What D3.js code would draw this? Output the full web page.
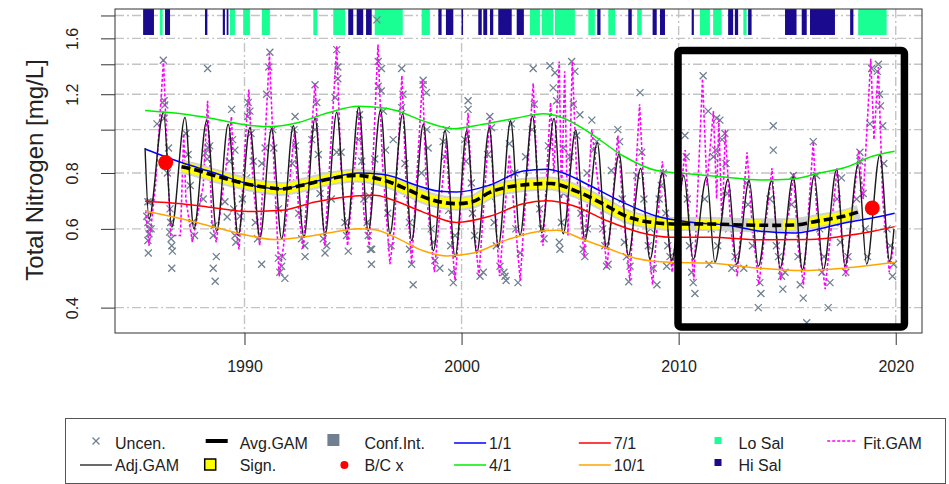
<!DOCTYPE html>
<html>
<head>
<meta charset="utf-8">
<script src="https://cdn.jsdelivr.net/npm/d3@7"></script>
<style>
  body { margin: 0; background: #fff; }
  svg { display: block; font-family: "Liberation Sans", Arial, sans-serif; }
</style>
</head>
<body>
<div class="chart"></div>
<script>
// Observations (uncensored): [decimal year, TN mg/L]
var uncen = [
  [1985.55,0.69],[1985.5,0.64],[1985.55,0.62],[1985.62,0.60],[1985.6,0.585],[1985.55,0.565],[1985.57,0.53],[1985.65,0.69],[1985.97,1.03],[1985.7,0.60],
  [1986.26,1.43],[1986.3,1.16],[1986.33,1.135],[1986.3,1.06],[1986.5,0.91],[1986.57,0.665],[1986.55,0.59],[1986.62,0.57],[1986.65,0.55],[1986.68,0.535],[1986.65,0.49],[1986.6,0.62],[1986.45,0.80],
  [1987.3,0.98],[1987.4,0.88],[1987.6,0.62],[1987.7,0.58],[1987.5,0.75],
  [1988.3,1.37],[1988.33,0.91],[1988.2,0.886],[1988.28,0.86],[1988.4,0.92],[1988.56,0.58],[1988.7,0.52],[1988.56,0.49],[1988.65,0.458],[1988.6,0.61],[1988.1,0.70],
  [1989.41,1.11],[1989.56,0.90],[1989.1,0.69],[1989.5,0.665],[1989.2,0.638],[1989.56,0.58],[1989.6,0.56],[1989.3,0.85],[1989.45,0.95],
  [1990.17,1.15],[1990.25,1.10],[1990.15,1.07],[1990.3,0.98],[1989.9,0.70],[1989.8,0.64],[1990.1,0.78],[1990.79,0.50],[1990.5,0.62],[1990.6,0.57],[1990.4,0.85],
  [1991.17,1.49],[1991.12,1.38],[1991.02,1.2],[1990.95,0.91],[1991.35,0.91],[1990.8,0.84],[1991.56,0.665],[1991.56,0.516],[1991.71,0.495],[1991.63,0.48],[1991.86,0.465],[1991.75,0.52],[1991.4,0.75],[1991.3,1.0],
  [1992.33,1.07],[1992.28,1.0],[1992.35,0.92],[1992.4,0.76],[1992.63,0.57],[1992.79,0.52],[1992.78,0.55],[1992.5,0.65],[1992.2,0.84],
  [1993.25,1.26],[1993.33,1.15],[1993.25,1.0],[1993.48,0.72],[1993.63,0.57],[1993.79,0.55],[1993.71,0.53],[1993.4,0.88],[1993.1,0.95],
  [1994.25,1.51],[1994.3,1.38],[1994.3,1.30],[1994.18,1.18],[1994.25,0.89],[1994.45,0.89],[1994.48,0.79],[1994.63,0.62],[1994.78,0.535],[1994.7,0.58],[1994.0,0.70],
  [1995.3,1.08],[1995.25,0.95],[1995.4,0.85],[1995.5,0.70],[1995.7,0.58],[1995.8,0.54],[1995.65,0.62],[1995.05,0.80],
  [1996.1,1.76],[1996.16,1.42],[1996.31,1.37],[1996.16,1.25],[1996.3,1.22],[1996.0,0.86],[1995.75,0.71],[1995.86,0.54],[1995.85,0.50],[1996.5,0.90],[1996.6,0.65],[1996.75,0.55],[1996.4,1.10],
  [1997.24,1.37],[1997.3,1.20],[1997.24,1.12],[1997.39,0.84],[1996.85,0.95],[1997.7,0.50],[1997.77,0.45],[1997.6,0.54],[1997.5,0.72],[1997.6,0.62],
  [1998.23,1.29],[1998.38,1.21],[1998.23,1.26],[1998.46,0.91],[1998.15,0.80],[1998.77,0.51],[1999.0,0.49],[1998.6,0.60],[1998.7,0.56],[1998.4,1.0],
  [1999.15,0.94],[1999.22,0.87],[1999.62,0.455],[1999.55,0.48],[1999.5,0.55],[1999.4,0.66],[1999.3,1.0],[1999.7,0.58],
  [2000.3,1.16],[2000.3,1.11],[2000.15,0.95],[2000.45,0.76],[2000.85,0.47],[2001.0,0.48],[2000.6,0.58],[2000.5,0.65],[2000.2,0.85],
  [2001.3,1.07],[2001.38,1.01],[2001.3,0.71],[2001.77,0.495],[2002.0,0.47],[2002.05,0.46],[2001.95,0.48],[2001.6,0.55],[2001.5,0.62],[2001.2,0.88],
  [2002.6,0.455],[2002.45,0.80],[2002.2,0.93],[2002.3,1.03],[2002.5,0.60],[2002.7,0.53],[2002.1,0.75],
  [2003.3,1.37],[2003.35,1.14],[2002.95,0.87],[2003.6,0.665],[2003.5,0.75],[2003.7,0.60],[2003.8,0.57],[2003.25,1.0],
  [2004.07,1.39],[2004.3,1.34],[2004.22,1.24],[2004.38,1.16],[2004.68,0.91],[2004.53,0.54],[2004.5,0.56],[2004.6,0.62],[2004.7,0.72],[2004.0,0.92],
  [2005.07,1.42],[2005.22,1.35],[2005.15,1.14],[2005.45,1.08],[2005.3,0.97],[2005.0,0.87],[2005.6,0.54],[2005.68,0.52],[2005.5,0.65],[2005.8,0.60],
  [2006.0,1.05],[2006.23,0.94],[2006.08,0.90],[2005.78,0.80],[2006.68,0.495],[2006.75,0.50],[2006.5,0.60],[2006.6,0.55],[2006.3,0.70],
  [2007.2,1.00],[2007.28,0.94],[2006.9,0.81],[2007.76,0.495],[2007.7,0.457],[2007.5,0.56],[2007.6,0.52],[2007.4,0.70],
  [2008.22,1.21],[2008.3,0.89],[2008.07,0.79],[2008.83,0.49],[2009.0,0.45],[2008.6,0.55],[2008.7,0.60],[2008.4,0.70],
  [2009.3,0.80],[2009.2,0.75],[2009.5,0.55],[2009.6,0.52],[2009.45,0.495],[2009.4,0.65],[2009.1,0.70],
  [2010.29,0.97],[2010.35,0.87],[2010.67,0.455],[2010.75,0.43],[2010.6,0.48],[2010.5,0.55],[2010.4,0.70],[2010.1,0.62],
  [2011.13,1.32],[2011.36,1.10],[2011.75,1.06],[2011.9,1.05],[2011.6,0.87],[2011.7,0.90],[2011.2,0.70],[2011.5,0.60],[2011.8,0.55],[2011.4,0.50],
  [2012.13,0.98],[2012.0,0.95],[2012.18,0.84],[2012.45,0.49],[2012.3,0.60],[2012.6,0.52],[2012.25,0.72],
  [2013.13,0.76],[2013.0,0.49],[2013.74,0.455],[2013.79,0.43],[2013.67,0.40],[2013.4,0.55],[2013.5,0.60],[2013.2,0.68],
  [2014.36,1.02],[2014.36,0.90],[2014.74,0.47],[2014.8,0.44],[2014.9,0.48],[2014.5,0.55],[2014.2,0.70],[2014.6,0.52],
  [2015.28,0.79],[2015.9,0.37],[2015.74,0.42],[2015.6,0.45],[2015.4,0.60],[2015.5,0.52],[2015.2,0.68],
  [2016.2,0.94],[2016.35,0.79],[2016.97,0.455],[2016.89,0.40],[2016.7,0.52],[2016.5,0.60],[2016.6,0.48],
  [2017.5,0.78],[2017.3,0.70],[2017.45,0.56],[2017.7,0.48],[2017.8,0.52],[2017.2,0.62],
  [2018.35,0.89],[2018.35,0.85],[2018.81,1.03],[2018.89,1.37],[2018.6,0.60],[2018.7,0.52],[2018.5,0.72],[2018.2,0.70],
  [2019.2,1.40],[2019.15,1.35],[2019.25,1.2],[2019.3,1.13],[2019.4,1.02],[2019.45,0.84],[2019.9,0.50],[2019.85,0.47],[2019.6,0.60],[2019.75,0.55]
];

// Adjusted GAM (seasonal), read as peaks, troughs and end points
var adjPeaks = [
  [1986.27,1.094],[1987.26,1.065],[1988.26,1.047],[1989.25,1.028],[1990.25,1.01],[1991.25,1.005],[1992.25,1.02],
  [1993.25,1.06],[1994.25,1.094],[1995.27,1.125],[1996.27,1.105],[1997.29,1.085],[1998.24,1.028],[1999.24,0.994],
  [2000.24,0.994],[2001.28,1.01],[2002.26,1.047],[2003.27,1.073],[2004.26,1.059],[2005.26,0.997],[2006.25,0.935],
  [2007.26,0.884],[2008.25,0.82],[2009.25,0.80],[2010.24,0.79],[2011.29,0.783],[2012.28,0.776],[2013.25,0.77],
  [2014.28,0.768],[2015.28,0.785],[2016.25,0.791],[2017.28,0.815],[2018.27,0.835],[2019.27,0.879]
];
var adjTroughs = [
  [1985.6,0.632],[1986.65,0.606],[1987.67,0.60],[1988.72,0.593],[1989.71,0.58],[1990.71,0.572],[1991.71,0.57],
  [1992.74,0.575],[1993.71,0.581],[1994.71,0.588],[1995.7,0.593],[1996.7,0.585],[1997.7,0.565],[1998.7,0.536],
  [1999.7,0.519],[2000.7,0.53],[2001.69,0.548],[2002.69,0.58],[2003.69,0.588],[2004.68,0.585],[2005.68,0.565],
  [2006.68,0.542],[2007.68,0.522],[2008.68,0.513],[2009.68,0.51],[2010.67,0.513],[2011.67,0.505],[2012.67,0.50],
  [2013.67,0.495],[2014.67,0.49],[2015.7,0.486],[2016.66,0.486],[2017.66,0.495],[2018.66,0.50],[2019.72,0.508]
];
var adjEnds = [[1985.42,0.91],[2019.92,0.60]];

// Average GAM (long-term trend)
var avgGam = [
  [1987.1,0.826],[1987.6,0.816],[1988.6,0.79],[1989.9,0.76],[1991.1,0.742],[1991.7,0.737],[1992.6,0.75],
  [1993.9,0.776],[1995.1,0.79],[1996.2,0.776],[1996.8,0.76],[1997.5,0.735],[1998.5,0.70],[1999.8,0.683],
  [2000.5,0.69],[2001.3,0.724],[2002.8,0.752],[2004.1,0.758],[2005.3,0.728],[2006.5,0.683],[2007.6,0.64],
  [2008.8,0.62],[2010.0,0.615],[2011.5,0.615],[2013.0,0.612],[2014.5,0.611],[2015.3,0.612],[2016.5,0.626],
  [2017.6,0.64],[2018.3,0.655]
];
// periods of significant change
var signif = [[1987.1,2010.5],[2010.8,2011.9],[2013.2,2013.8],[2014.8,2015.35],[2016.0,2018.05]];

// GAM evaluated on fixed days of year
var day0101 = [
  [1985.42,0.905],[1987.1,0.844],[1988.64,0.80],[1990.0,0.76],[1990.64,0.745],[1991.7,0.737],[1992.94,0.76],
  [1994.0,0.78],[1995.24,0.80],[1996.32,0.795],[1996.93,0.783],[1997.62,0.76],[1999.0,0.728],[1999.77,0.725],
  [2001.3,0.752],[2002.84,0.808],[2003.92,0.816],[2004.68,0.80],[2005.9,0.75],[2007.45,0.687],[2008.99,0.64],
  [2010.67,0.62],[2012.2,0.612],[2013.75,0.593],[2015.28,0.587],[2016.5,0.60],[2017.74,0.62],[2018.96,0.635],[2019.95,0.65]
];
var day0401 = [
  [1985.42,1.104],[1987.1,1.085],[1988.64,1.056],[1989.87,1.028],[1991.25,1.016],[1992.33,1.033],[1993.86,1.091],
  [1995.24,1.128],[1996.32,1.119],[1996.93,1.105],[1998.23,1.046],[1999.62,1.005],[2001.0,1.028],[2002.54,1.062],
  [2003.76,1.085],[2004.68,1.062],[2005.9,0.984],[2007.45,0.873],[2008.99,0.81],[2010.67,0.795],[2012.2,0.783],
  [2013.75,0.772],[2015.28,0.776],[2016.5,0.80],[2017.74,0.825],[2018.96,0.873],[2019.95,0.895]
];
var day0701 = [
  [1985.42,0.692],[1987.1,0.683],[1988.64,0.668],[1990.17,0.656],[1991.7,0.66],[1993.25,0.689],[1995.09,0.711],
  [1996.0,0.713],[1996.7,0.70],[1998.23,0.654],[1999.77,0.62],[2001.3,0.64],[2002.84,0.683],[2003.92,0.693],
  [2005.15,0.676],[2006.68,0.626],[2008.22,0.589],[2009.6,0.575],[2011.44,0.575],[2013.75,0.567],[2016.05,0.568],
  [2017.58,0.578],[2018.96,0.593],[2019.95,0.607]
];
var day1001 = [
  [1985.42,0.658],[1987.1,0.632],[1988.64,0.605],[1990.17,0.58],[1991.4,0.568],[1992.63,0.575],[1994.02,0.589],
  [1995.24,0.60],[1996.0,0.597],[1996.93,0.575],[1998.23,0.536],[1999.3,0.522],[2000.54,0.53],[2002.08,0.567],
  [2003.6,0.593],[2004.38,0.596],[2005.6,0.568],[2006.84,0.54],[2008.07,0.515],[2009.6,0.505],[2011.4,0.503],
  [2013.75,0.49],[2015.6,0.484],[2017.58,0.49],[2018.96,0.498],[2019.95,0.505]
];

// Full GAM fit (with salinity)
var fitGam = [
  [1985.45,0.66],[1985.6,0.55],[1985.9,0.75],[1986.27,1.43],[1986.45,0.85],[1986.6,0.58],[1987.05,0.58],[1987.2,0.98],
  [1987.3,0.70],[1987.6,0.56],[1988.1,0.75],[1988.3,1.16],[1988.5,0.62],[1988.7,0.56],[1989.2,0.86],[1989.4,1.07],
  [1989.6,0.60],[1989.75,0.54],[1990.1,1.05],[1990.2,1.23],[1990.4,0.75],[1990.7,0.55],[1991.15,1.48],[1991.35,0.85],
  [1991.6,0.47],[1991.8,0.55],[1992.3,0.99],[1992.5,0.65],[1992.7,0.54],[1993.25,1.27],[1993.5,0.75],[1993.7,0.55],
  [1994.25,1.54],[1994.45,0.80],[1994.75,0.55],[1995.1,0.85],[1995.3,1.10],[1995.5,0.65],[1995.75,0.55],[1996.15,1.55],
  [1996.35,0.85],[1996.7,0.50],[1996.9,0.60],[1997.25,1.32],[1997.45,0.75],[1997.7,0.50],[1998.2,1.29],[1998.4,0.70],
  [1998.75,0.48],[1999.3,0.95],[1999.5,0.60],[1999.7,0.46],[2000.3,1.09],[2000.5,0.66],[2000.8,0.47],[2001.3,1.07],
  [2001.5,0.70],[2001.75,0.47],[2002.2,0.88],[2002.5,0.60],[2002.7,0.46],[2003.3,1.27],[2003.5,0.75],[2003.75,0.55],
  [2004.1,1.15],[2004.25,0.80],[2004.5,1.42],[2004.6,0.70],[2004.75,1.35],[2004.9,0.58],[2005.1,1.42],[2005.3,0.80],
  [2005.65,0.52],[2006.0,1.0],[2006.3,0.75],[2006.7,0.49],[2007.2,0.97],[2007.45,0.65],[2007.75,0.46],[2008.2,1.14],
  [2008.45,0.65],[2008.8,0.45],[2009.25,0.85],[2009.5,0.60],[2009.7,0.48],[2010.3,0.90],[2010.5,0.60],[2010.7,0.46],
  [2011.1,1.30],[2011.3,0.75],[2011.6,1.10],[2011.75,0.70],[2011.85,1.05],[2012.0,0.60],[2012.15,1.0],[2012.4,0.60],
  [2012.7,0.47],[2013.15,0.89],[2013.4,0.60],[2013.7,0.45],[2014.3,0.82],[2014.5,0.58],[2014.7,0.46],[2015.3,0.80],
  [2015.5,0.55],[2015.75,0.45],[2016.2,0.94],[2016.4,0.60],[2016.75,0.44],[2017.3,0.82],[2017.5,0.58],[2017.7,0.47],
  [2018.3,0.90],[2018.5,0.70],[2018.85,1.44],[2019.0,0.95],[2019.2,1.38],[2019.4,0.70],[2019.7,0.48],[2019.9,0.55]
];

// Back-calculated points
var bcPoints = [[1986.37,0.844],[2018.92,0.668]];

// Salinity classes [start, end]
var loSal = [
  [1986.1,1986.23],[1989.33,1989.56],[1989.94,1990.25],[1990.8,1991.17],[1993.17,1993.35],[1994.09,1994.63],
  [1996.0,1997.29],[1998.16,1998.54],[2003.15,2003.61],[2003.69,2004.22],[2004.3,2005.22],[2005.84,2006.14],
  [2006.76,2007.07],[2008.09,2008.3],[2010.98,2011.44],[2011.59,2011.98],[2012.98,2013.13],[2018.27,2019.58]
];
var hiSal = [
  [1985.33,1985.83],[1986.34,1986.57],[1988.18,1988.29],[1989.0,1989.1],[1989.18,1989.26],[1994.78,1995.01],
  [1995.17,1995.47],[1995.6,1995.86],[1998.93,1999.08],[1999.28,1999.62],[2000.0,2000.05],[2000.77,2000.93],
  [2001.0,2001.18],[2001.31,2001.46],[2001.69,2002.31],[2002.54,2002.87],[2006.25,2006.4],[2007.68,2007.84],
  [2008.8,2008.99],[2009.14,2009.37],[2010.6,2010.7],[2012.28,2012.51],[2012.59,2012.74],[2013.2,2013.36],
  [2014.9,2015.43],[2015.67,2015.9],[2016.05,2017.2],[2017.9,2018.05]
];

// Highlighted period
var boxYears = [2009.97, 2020.4];
var boxValues = [0.362, 1.503];

// Axis ticks
var xTicks = [1990, 2000, 2010, 2020];
var yTicks = [0.4, 0.6, 0.8, 1.0, 1.2, 1.4, 1.6, 1.8];
var yTickLabels = ["0.4", "0.6", "0.8", "", "1.2", "", "1.6", ""];

var svgWidth = 949;
var svgHeight = 484;

var margin = {
  top: 9,
  right: 27,
  bottom: 151,
  left: 115
};

var width = svgWidth - margin.left - margin.right;
var height = svgHeight - margin.top - margin.bottom;

var svg = d3.select(".chart")
  .append("svg")
  .attr("width", svgWidth)
  .attr("height", svgHeight);

svg.append("rect")
  .attr("width", svgWidth)
  .attr("height", svgHeight)
  .attr("fill", "#fff");

var chartGroup = svg.append("g")
  .attr("transform", `translate(${margin.left}, ${margin.top})`);

// Scales
// ==============================
var xScale = d3.scaleLinear()
  .domain([1984.035, 2021.21])
  .range([0, width]);

var yScale = d3.scaleLog()
  .domain([0.351, 1.861])
  .range([height, 0]);

chartGroup.append("clipPath")
  .attr("id", "plotclip")
  .append("rect")
  .attr("width", width)
  .attr("height", height);

var plot = chartGroup.append("g").attr("clip-path", "url(#plotclip)");

// Grid
// ==============================
var gridDash = "9,3,2,3";
plot.selectAll(".hgrid")
  .data(yTicks)
  .enter()
  .append("line")
  .attr("x1", 0)
  .attr("x2", width)
  .attr("y1", d => yScale(d))
  .attr("y2", d => yScale(d))
  .attr("stroke", "#c4c4c4")
  .attr("stroke-width", 1.4)
  .attr("stroke-dasharray", gridDash);

plot.selectAll(".vgrid")
  .data(xTicks)
  .enter()
  .append("line")
  .attr("x1", d => xScale(d))
  .attr("x2", d => xScale(d))
  .attr("y1", 0)
  .attr("y2", height)
  .attr("stroke", "#c4c4c4")
  .attr("stroke-width", 1.4)
  .attr("stroke-dasharray", gridDash);

// Salinity bars along the top
// ==============================
var salTop = yScale(1.861);
var salBottom = yScale(1.628);

function salBars(data, color) {
  plot.append("g")
    .selectAll("rect")
    .data(data)
    .enter()
    .append("rect")
    .attr("x", d => xScale(d[0]))
    .attr("width", d => Math.max(1.5, xScale(d[1]) - xScale(d[0])))
    .attr("y", salTop)
    .attr("height", salBottom - salTop)
    .attr("fill", color);
}
salBars(loSal, "#1aff94");
salBars(hiSal, "#1a0a8e");

// Observations
// ==============================
var cross = "M-3.5,-3.5L3.5,3.5M-3.5,3.5L3.5,-3.5";
plot.append("g")
  .selectAll("path")
  .data(uncen)
  .enter()
  .append("path")
  .attr("d", cross)
  .attr("transform", d => `translate(${xScale(d[0])}, ${yScale(d[1])})`)
  .attr("fill", "none")
  .attr("stroke", "#708090")
  .attr("stroke-width", 1.3);

// Lines
// ==============================
var line = d3.line()
  .x(d => xScale(d[0]))
  .y(d => yScale(d[1]))
  .curve(d3.curveMonotoneX);

// fit GAM, magenta dotted
plot.append("path")
  .datum(fitGam)
  .attr("d", d3.line().x(d => xScale(d[0])).y(d => yScale(d[1])))
  .attr("fill", "none")
  .attr("stroke", "#ff00ff")
  .attr("stroke-width", 1.6)
  .attr("stroke-dasharray", "3,2");

// confidence interval and significance under the average trend
plot.append("path")
  .datum(avgGam)
  .attr("d", line)
  .attr("fill", "none")
  .attr("stroke", "#d2d2d2")
  .attr("stroke-width", 14);

signif.forEach(function (s, i) {
  var id = "sig" + i;
  chartGroup.append("clipPath")
    .attr("id", id)
    .append("rect")
    .attr("x", xScale(s[0]))
    .attr("width", xScale(s[1]) - xScale(s[0]))
    .attr("y", 0)
    .attr("height", height);

  plot.append("path")
    .datum(avgGam)
    .attr("d", line)
    .attr("fill", "none")
    .attr("stroke", "#ffff00")
    .attr("stroke-width", 10)
    .attr("clip-path", `url(#${id})`);
});

// adjusted GAM, thin black
var adjGam = adjPeaks.concat(adjTroughs, adjEnds).sort((a, b) => a[0] - b[0]);
plot.append("path")
  .datum(adjGam)
  .attr("d", line)
  .attr("fill", "none")
  .attr("stroke", "#1a1a1a")
  .attr("stroke-width", 1.4);

// day-of-year curves
var dayLines = [
  {data: day1001, color: "#ffa500"},
  {data: day0701, color: "#ff0000"},
  {data: day0401, color: "#00ee00"},
  {data: day0101, color: "#0000ff"}
];
dayLines.forEach(function (s) {
  plot.append("path")
    .datum(s.data)
    .attr("d", line)
    .attr("fill", "none")
    .attr("stroke", s.color)
    .attr("stroke-width", 1.5);
});

// average GAM, thick dashed
plot.append("path")
  .datum(avgGam)
  .attr("d", line)
  .attr("fill", "none")
  .attr("stroke", "#000")
  .attr("stroke-width", 3.6)
  .attr("stroke-dasharray", "9,4");

// back-calculated points
plot.selectAll(".bc")
  .data(bcPoints)
  .enter()
  .append("circle")
  .attr("cx", d => xScale(d[0]))
  .attr("cy", d => yScale(d[1]))
  .attr("r", 7.5)
  .attr("fill", "#ff0000");

// Axes
// ==============================
var leftAxis = d3.axisLeft(yScale)
  .tickValues(yTicks)
  .tickSize(14)
  .tickFormat((d, i) => yTickLabels[i]);

var yAxisG = chartGroup.append("g").call(leftAxis);
yAxisG.select(".domain").remove();
yAxisG.selectAll("line").attr("stroke", "#333");
yAxisG.selectAll("text")
  .attr("transform", "rotate(-90)")
  .attr("x", 0)
  .attr("y", -43)
  .attr("dy", "0.35em")
  .attr("text-anchor", "middle")
  .attr("font-size", 16)
  .attr("fill", "#222");

var bottomAxis = d3.axisBottom(xScale)
  .tickValues(xTicks)
  .tickSize(12)
  .tickFormat(d3.format("d"));

var xAxisG = chartGroup.append("g")
  .attr("transform", `translate(0, ${height})`)
  .call(bottomAxis);
xAxisG.select(".domain").remove();
xAxisG.selectAll("line").attr("stroke", "#333");
xAxisG.selectAll("text")
  .attr("y", 33)
  .attr("dy", "0.35em")
  .attr("font-size", 16)
  .attr("fill", "#222");

// plot frame
chartGroup.append("rect")
  .attr("width", width)
  .attr("height", height)
  .attr("fill", "none")
  .attr("stroke", "#333")
  .attr("stroke-width", 1);

// highlighted period
chartGroup.append("rect")
  .attr("x", xScale(boxYears[0]))
  .attr("y", yScale(boxValues[1]))
  .attr("width", xScale(boxYears[1]) - xScale(boxYears[0]))
  .attr("height", yScale(boxValues[0]) - yScale(boxValues[1]))
  .attr("rx", 3)
  .attr("fill", "none")
  .attr("stroke", "#000")
  .attr("stroke-width", 7.5);

// axis title
svg.append("text")
  .attr("transform", `translate(35, ${margin.top + 161}) rotate(-90)`)
  .attr("dy", "0.35em")
  .attr("text-anchor", "middle")
  .attr("font-size", 24)
  .attr("fill", "#222")
  .text("Total Nitrogen [mg/L]");

// Legend
// ==============================
var legend = svg.append("g");
legend.append("rect")
  .attr("x", 65.5)
  .attr("y", 418.5)
  .attr("width", 880)
  .attr("height", 65)
  .attr("fill", "#fff")
  .attr("stroke", "#555")
  .attr("stroke-width", 1);

var legendItems = [
  {label: "Uncen.", kind: "cross"},
  {label: "Adj.GAM", kind: "line", color: "#1a1a1a", w: 1.3},
  {label: "Avg.GAM", kind: "thick"},
  {label: "Sign.", kind: "ysquare"},
  {label: "Conf.Int.", kind: "gsquare"},
  {label: "B/C x", kind: "dot"},
  {label: "1/1", kind: "line", color: "#0000ff", w: 1.5},
  {label: "4/1", kind: "line", color: "#00ee00", w: 1.5},
  {label: "7/1", kind: "line", color: "#ff0000", w: 1.5},
  {label: "10/1", kind: "line", color: "#ffa500", w: 1.5},
  {label: "Lo Sal", kind: "square", color: "#1aff94"},
  {label: "Hi Sal", kind: "square", color: "#1a0a8e"},
  {label: "Fit.GAM", kind: "dotted"}
];

legendItems.forEach(function (item, i) {
  var col = Math.floor(i / 2);
  var row = i % 2;
  var tx = 115 + col * 124.7;
  var ty = row === 0 ? 443 : 465;
  var g = legend.append("g");
  if (item.kind === "cross") {
    g.append("path").attr("d", cross)
      .attr("transform", `translate(${tx - 19}, ${ty - 2})`)
      .attr("fill", "none").attr("stroke", "#708090").attr("stroke-width", 1.3);
  } else if (item.kind === "line") {
    g.append("line").attr("x1", tx - 35).attr("x2", tx - 3).attr("y1", ty).attr("y2", ty)
      .attr("stroke", item.color).attr("stroke-width", item.w);
  } else if (item.kind === "thick") {
    g.append("line").attr("x1", tx - 34).attr("x2", tx - 12).attr("y1", ty - 2).attr("y2", ty - 2)
      .attr("stroke", "#000").attr("stroke-width", 4);
  } else if (item.kind === "ysquare") {
    g.append("rect").attr("x", tx - 35).attr("y", ty - 6).attr("width", 11).attr("height", 11)
      .attr("fill", "#ffff00").attr("stroke", "#000").attr("stroke-width", 1.5);
  } else if (item.kind === "gsquare") {
    g.append("rect").attr("x", tx - 37).attr("y", ty - 9).attr("width", 12).attr("height", 12)
      .attr("fill", "#708090");
  } else if (item.kind === "dot") {
    g.append("circle").attr("cx", tx - 20).attr("cy", ty).attr("r", 4)
      .attr("fill", "#ff0000");
  } else if (item.kind === "square") {
    g.append("rect").attr("x", tx - 24).attr("y", ty - 6).attr("width", 7).attr("height", 7)
      .attr("fill", item.color);
  } else if (item.kind === "dotted") {
    g.append("line").attr("x1", tx - 36).attr("x2", tx - 6).attr("y1", ty - 2).attr("y2", ty - 2)
      .attr("stroke", "#ff00ff").attr("stroke-width", 1.5).attr("stroke-dasharray", "3,2");
  }
  g.append("text")
    .attr("x", tx)
    .attr("y", ty)
    .attr("dy", "0.35em")
    .attr("font-size", 16)
    .attr("fill", "#222")
    .text(item.label);
});
</script>
</body>
</html>
